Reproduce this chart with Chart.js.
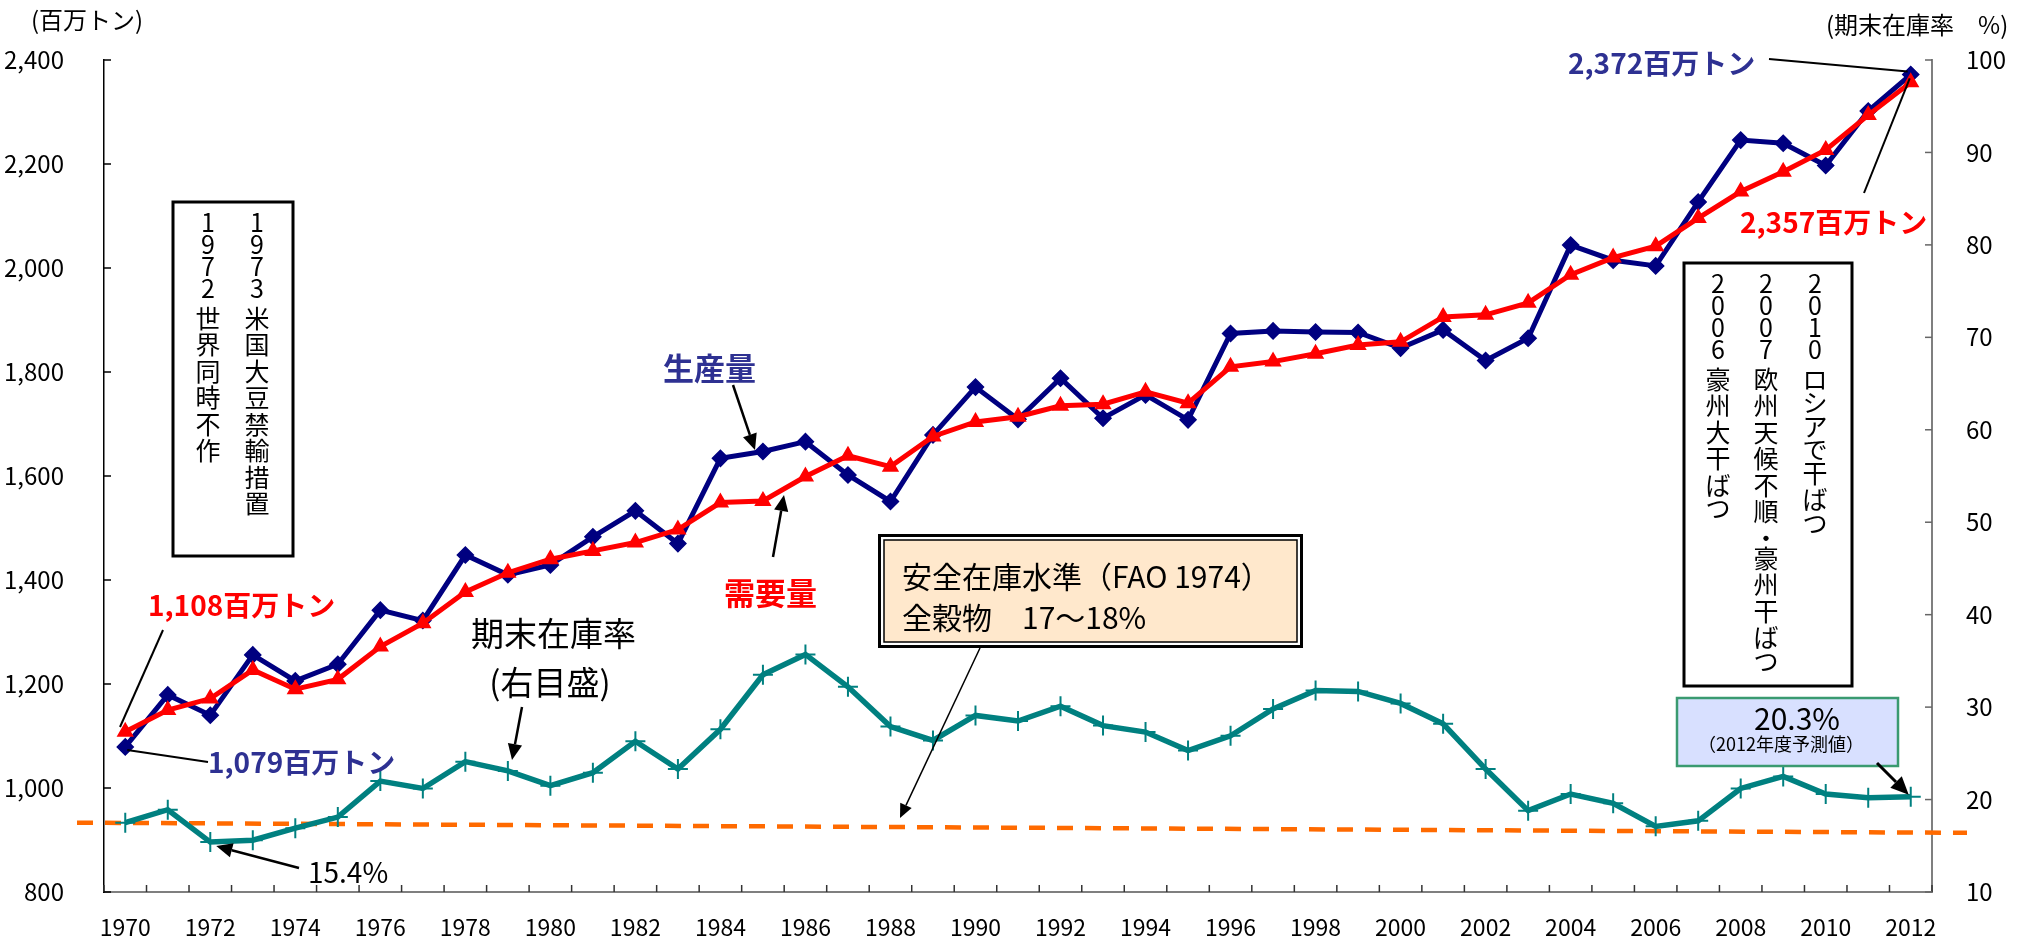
<!DOCTYPE html>
<html lang="ja">
<head>
<meta charset="utf-8">
<title>世界の穀物需給</title>
<script src="https://cdn.jsdelivr.net/npm/chart.js@4.4.1/dist/chart.umd.min.js"></script>
<style>
  html, body { margin: 0; padding: 0; background: #fff; }
  #wrap { width: 2022px; height: 947px; }
</style>
</head>
<body>
<div id="wrap"><canvas id="grainChart" width="2022" height="947"></canvas></div>
<script>
const years = ["1970","1971","1972","1973","1974","1975","1976","1977","1978","1979",
  "1980","1981","1982","1983","1984","1985","1986","1987","1988","1989",
  "1990","1991","1992","1993","1994","1995","1996","1997","1998","1999",
  "2000","2001","2002","2003","2004","2005","2006","2007","2008","2009",
  "2010","2011","2012"];

// 生産量 (百万トン)
const production = [1079,1179,1140,1256,1206,1238,1342,1322,1448,1410,
  1429,1483,1533,1470,1634,1647,1666,1602,1551,1679,
  1771,1709,1788,1711,1756,1708,1874,1879,1877,1876,
  1846,1881,1822,1865,2044,2015,2004,2127,2246,2240,
  2197,2302,2372];

// 需要量 (百万トン)
const demand = [1108,1150,1172,1227,1190,1209,1272,1317,1377,1414,
  1440,1456,1472,1497,1549,1552,1599,1639,1618,1676,
  1704,1714,1735,1738,1762,1740,1810,1820,1835,1852,
  1858,1906,1910,1933,1987,2020,2042,2096,2147,2185,
  2227,2294,2357];

// 期末在庫率 (%)
const stockRatio = [17.5,18.9,15.4,15.6,16.9,18.1,22.0,21.2,24.1,23.1,
  21.5,22.9,26.3,23.3,27.6,33.5,35.7,32.2,27.9,26.4,
  29.1,28.5,30.1,28.0,27.3,25.3,26.9,29.8,31.8,31.7,
  30.4,28.2,23.3,18.8,20.6,19.6,17.1,17.7,21.2,22.5,
  20.6,20.2,20.3];

// 安全在庫水準の点線 (左端, 右端 %)
const safetyLevel = [17.5, 16.4];

const FONT = "'Noto Sans CJK JP', 'Noto Sans', sans-serif";
const NAVY_TEXT = "#2E3192";

function line(ctx, x1, y1, x2, y2) {
  ctx.beginPath();
  ctx.moveTo(x1, y1);
  ctx.lineTo(x2, y2);
  ctx.stroke();
}

function arrow(ctx, x1, y1, x2, y2, w, head) {
  const ang = Math.atan2(y2 - y1, x2 - x1);
  const bx = x2 - Math.cos(ang) * head, by = y2 - Math.sin(ang) * head;
  ctx.lineWidth = w;
  line(ctx, x1, y1, bx, by);
  ctx.beginPath();
  ctx.moveTo(x2, y2);
  ctx.lineTo(bx + Math.sin(ang) * head * 0.45, by - Math.cos(ang) * head * 0.45);
  ctx.lineTo(bx - Math.sin(ang) * head * 0.45, by + Math.cos(ang) * head * 0.45);
  ctx.closePath();
  ctx.fill();
}

function vtext(ctx, str, x, y0) {
  let y = y0;
  for (const ch of str) {
    if (ch === " ") { y += 8; continue; }
    ctx.fillText(ch, x, y);
    if (/[0-9]/.test(ch)) y += 22;
    else if (ch === "・") y += 20;
    else if (/[\u3040-\u30ff]/.test(ch)) y += 23.5;
    else y += 26.5;
  }
}

function label(ctx, text, x, y, size, color, bold, align) {
  ctx.font = (bold ? "bold " : "") + size + "px " + FONT;
  ctx.fillStyle = color;
  ctx.textAlign = align || "left";
  ctx.textBaseline = "middle";
  ctx.fillText(text, x, y);
}

const extras = {
  id: "extras",
  beforeDatasetsDraw(chart) {
    const { ctx, chartArea: a, scales } = chart;
    ctx.save();
    ctx.strokeStyle = "#FF6A00";
    ctx.lineWidth = 4.5;
    ctx.setLineDash([16, 12]);
    line(ctx, a.left - 27, scales.y1.getPixelForValue(safetyLevel[0]),
      a.right + 35, scales.y1.getPixelForValue(safetyLevel[1]));
    ctx.restore();
  },
  afterDraw(chart) {
    const { ctx, chartArea: a, scales } = chart;
    const x = scales.x, yL = scales.y, yR = scales.y1;
    ctx.save();

    // inward tick marks
    ctx.lineWidth = 1.5;
    ctx.strokeStyle = "#333";
    for (let i = 0; i <= years.length; i++) {
      const px = x.getPixelForValue(i - 0.5);
      line(ctx, px, a.bottom, px, a.bottom - 7);
    }
    ctx.strokeStyle = "#000";
    yL.ticks.forEach((t, i) => {
      const py = yL.getPixelForTick(i);
      line(ctx, a.left, py, a.left + 7, py);
    });
    ctx.strokeStyle = "#666";
    yR.ticks.forEach((t, i) => {
      const py = yR.getPixelForTick(i);
      line(ctx, a.right, py, a.right - 7, py);
    });

    // axis unit titles
    label(ctx, "(百万トン)", 31, 20, 24, "#000", false);
    label(ctx, "(期末在庫率　%)", 1826, 25, 24, "#000", false);

    // vertical text boxes
    ctx.fillStyle = "#fff";
    ctx.strokeStyle = "#000";
    ctx.lineWidth = 3;
    ctx.fillRect(173, 202, 120, 354);
    ctx.strokeRect(173, 202, 120, 354);
    ctx.fillRect(1684, 263, 168, 423);
    ctx.strokeRect(1684, 263, 168, 423);
    ctx.font = "25px " + FONT;
    ctx.fillStyle = "#000";
    ctx.textAlign = "center";
    ctx.textBaseline = "middle";
    vtext(ctx, "1973 米国大豆禁輸措置", 257, 222);
    vtext(ctx, "1972 世界同時不作", 208, 222);
    vtext(ctx, "2010 ロシアで干ばつ", 1815, 283);
    vtext(ctx, "2007 欧州天候不順・豪州干ばつ", 1766, 283);
    vtext(ctx, "2006 豪州大干ばつ", 1718, 283);

    // safety stock box
    ctx.fillStyle = "#fff";
    ctx.fillRect(878, 534, 425, 114);
    ctx.lineWidth = 3;
    ctx.strokeRect(879.5, 535.5, 422, 111);
    ctx.fillStyle = "#FFE8CC";
    ctx.fillRect(884, 540, 413, 102);
    ctx.lineWidth = 1.5;
    ctx.strokeRect(884, 540, 413, 102);
    label(ctx, "安全在庫水準（FAO 1974）", 902, 577, 30, "#000", false);
    label(ctx, "全穀物　17～18%", 902, 618, 30, "#000", false);

    // 2012 forecast box
    ctx.fillStyle = "#D8E0FF";
    ctx.fillRect(1677, 698, 221, 68);
    ctx.strokeStyle = "#3A9A70";
    ctx.lineWidth = 2.5;
    ctx.strokeRect(1677, 698, 221, 68);
    label(ctx, "20.3%", 1797, 719, 30, "#000", false, "center");
    label(ctx, "（2012年度予測値）", 1781, 744, 18, "#000", false, "center");

    // value labels
    label(ctx, "2,372百万トン", 1568, 63, 28, NAVY_TEXT, true);
    label(ctx, "2,357百万トン", 1740, 222, 28, "#FF0000", true);
    label(ctx, "1,108百万トン", 148, 605, 28, "#FF0000", true);
    label(ctx, "1,079百万トン", 208, 762, 28, NAVY_TEXT, true);
    label(ctx, "生産量", 663, 368, 31, NAVY_TEXT, true);
    label(ctx, "需要量", 724, 593, 31, "#FF0000", true);
    label(ctx, "期末在庫率", 471, 633, 33, "#000", false);
    label(ctx, "(右目盛)", 550, 682, 33, "#000", false, "center");
    label(ctx, "15.4%", 308, 872, 28, "#000", false);

    // leader lines
    ctx.strokeStyle = "#000";
    ctx.fillStyle = "#000";
    ctx.lineWidth = 2;
    const pLast = x.getPixelForValue(years.length - 1);
    line(ctx, 1769, 59, pLast - 3, yL.getPixelForValue(production[production.length - 1]) - 3);
    line(ctx, 1864, 193, pLast - 1, yL.getPixelForValue(demand[demand.length - 1]) - 4);
    line(ctx, 163, 630, 120, 727);
    line(ctx, x.getPixelForValue(0) + 2, yL.getPixelForValue(production[0]) + 3, 208, 762);

    // arrows
    arrow(ctx, 299, 868, x.getPixelForValue(2) + 6, yR.getPixelForValue(stockRatio[2]) + 4, 2.5, 16);
    arrow(ctx, 522, 707, 512, 760, 2.5, 16);
    arrow(ctx, 733, 385, 755, 450, 2.5, 16);
    arrow(ctx, 773, 557, 784, 495, 2.5, 16);
    arrow(ctx, 980, 648, 900, 818, 1.5, 14);
    arrow(ctx, 1877, 763, x.getPixelForValue(years.length - 1) - 2,
      yR.getPixelForValue(stockRatio[stockRatio.length - 1]) - 2, 3, 18);

    ctx.restore();
  }
};

new Chart(document.getElementById("grainChart"), {
  type: "line",
  data: {
    labels: years,
    datasets: [
      {
        label: "需要量",
        data: demand,
        yAxisID: "y",
        order: 1,
        borderColor: "#FF0000",
        backgroundColor: "#FF0000",
        borderWidth: 5,
        pointStyle: "triangle",
        pointRadius: 8.5,
        pointBorderWidth: 1.5,
        tension: 0
      },
      {
        label: "生産量",
        data: production,
        yAxisID: "y",
        order: 2,
        borderColor: "#000080",
        backgroundColor: "#000080",
        borderWidth: 5,
        pointStyle: "rectRot",
        pointRadius: 8,
        pointBorderWidth: 1.5,
        tension: 0
      },
      {
        label: "期末在庫率",
        data: stockRatio,
        yAxisID: "y1",
        order: 3,
        borderColor: "#008080",
        backgroundColor: "#008080",
        borderWidth: 5.5,
        pointStyle: "cross",
        pointRadius: 10,
        pointBorderWidth: 2,
        tension: 0
      }
    ]
  },
  options: {
    responsive: false,
    devicePixelRatio: 1,
    animation: false,
    layout: { padding: { top: 60, left: 0, right: 0, bottom: 0 } },
    plugins: {
      legend: { display: false },
      tooltip: { enabled: false }
    },
    scales: {
      x: {
        type: "category",
        offset: true,
        grid: { display: false, offset: true },
        border: { display: true, color: "#7F7F7F", width: 2 },
        ticks: {
          autoSkip: false,
          maxRotation: 0,
          padding: 13,
          color: "#000",
          font: { family: FONT, size: 23 },
          callback: function (v, i) { return i % 2 === 0 ? years[i] : ""; }
        },
        afterFit(s) { s.height = 55; }
      },
      y: {
        position: "left",
        min: 800,
        max: 2400,
        grid: { display: false },
        border: { display: true, color: "#000", width: 1.5 },
        ticks: {
          stepSize: 200,
          padding: 32,
          color: "#000",
          font: { family: FONT, size: 24 },
          callback: v => v.toLocaleString("en-US")
        },
        afterFit(s) { s.width = 104; }
      },
      y1: {
        position: "right",
        min: 10,
        max: 100,
        grid: { display: false },
        border: { display: true, color: "#7F7F7F", width: 2 },
        ticks: {
          stepSize: 10,
          padding: 26,
          color: "#000",
          font: { family: FONT, size: 24 }
        },
        afterFit(s) { s.width = 90; }
      }
    }
  },
  plugins: [extras]
});
</script>
</body>
</html>
